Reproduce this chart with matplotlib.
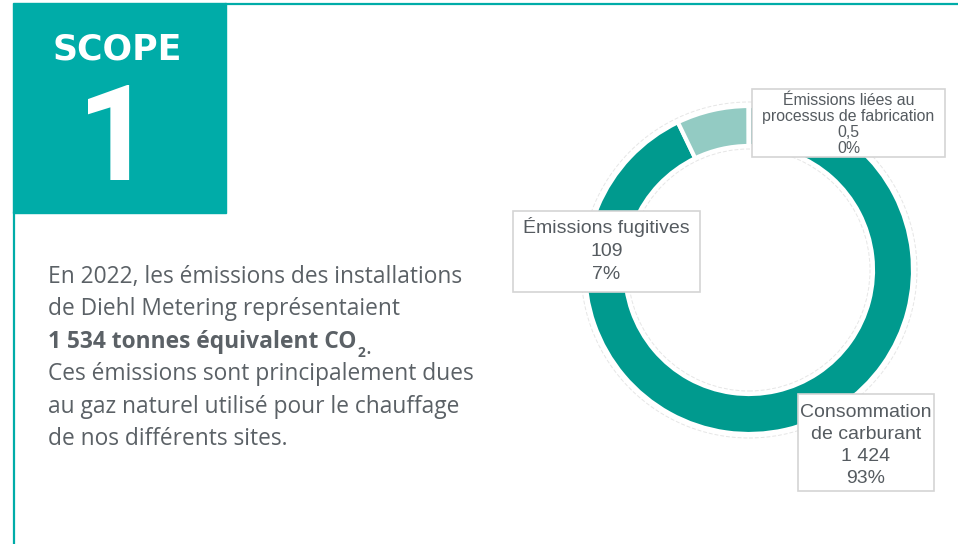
import matplotlib.pyplot as plt
from matplotlib.patches import Rectangle, Circle

# donut data
categories = ["Consommation\nde carburant", "Émissions fugitives", "Émissions liées au\nprocessus de fabrication"]
values = [1424, 109, 0.5]
value_labels = ["1 424", "109", "0,5"]
pct_labels = ["93%", "7%", "0%"]
colors = ["#009a8e", "#93cbc3", "#c9e4e0"]

# text block on the left
intro_lines = ["En 2022, les émissions des installations",
               "de Diehl Metering représentaient"]
bold_line = "1 534 tonnes équivalent CO"
outro_lines = ["Ces émissions sont principalement dues",
               "au gaz naturel utilisé pour le chauffage",
               "de nos différents sites."]

TEAL = "#00aca8"
GREY = "#5b6166"
H = 544  # figure height in px, used to flip y

fig = plt.figure(figsize=(9.58, 5.44), dpi=100)
ax = fig.add_axes([0, 0, 1, 1])

# donut
cx, cy, r = 749, H - 270, 164
ax.pie(values, colors=colors, startangle=90, counterclock=False, center=(cx, cy), radius=r,
       wedgeprops=dict(width=40, edgecolor="white", linewidth=3), frame=True)
ax.add_patch(Circle((cx, cy), r + 4, fill=False, ec="#e6e6e6", lw=0.7, ls=(0, (4, 2))))
ax.add_patch(Circle((cx, cy), r - 43, fill=False, ec="#e6e6e6", lw=0.7, ls=(0, (4, 2))))
ax.set_xlim(0, 958)
ax.set_ylim(0, H)
ax.set_aspect("auto")
ax.axis("off")

# frame: teal square, top line, left line
ax.add_patch(Rectangle((13, H - 213), 213, 210, color=TEAL, zorder=1))
ax.plot([226, 958], [H - 4, H - 4], color=TEAL, lw=1.6)
ax.plot([14, 14], [0, H - 213], color=TEAL, lw=1.6)
ax.text(117, H - 50, "SCOPE", color="white", fontsize=25, fontweight="bold",
        family="DejaVu Sans", ha="center", va="center", zorder=2)
ax.text(115, H - 180, "1", color="white", fontsize=96, fontweight="bold",
        family="Roboto", ha="center", va="baseline", zorder=2)

# paragraph
font = dict(family="Open Sans", fontsize=16.4, color=GREY, va="baseline", ha="left")
step = 32.4
y = H - 283
for line in intro_lines:
    ax.text(48, y, line, **font)
    y -= step
t = ax.text(48, y, bold_line, fontweight="bold", **font)
s = ax.annotate("2", xy=(1, 0), xycoords=t, xytext=(0.5, -2), textcoords="offset points",
                family="Open Sans", fontsize=10, fontweight="bold", color=GREY, va="baseline", ha="left")
ax.annotate(".", xy=(1, 0), xycoords=s, xytext=(0.5, 4), textcoords="offset points",
            family="Open Sans", fontsize=16.4, color=GREY, va="baseline", ha="left")
y -= step
for line in outro_lines:
    ax.text(48, y, line, **font)
    y -= step

# data label boxes: x0, y_top, x1, y_bottom, first baseline, line step (px)
boxes = [(798, 394, 934, 491, 417, 22), (513, 211, 700, 292, 233, 23), (752, 89, 945, 157, 105, 16)]
label_sizes = [14, 14, 11.4]
for i in range(3):
    x0, y0, x1, y1, b0, dy = boxes[i]
    ax.add_patch(Rectangle((x0, H - y1), x1 - x0, y1 - y0, fc="white", ec="#d4d4d4", lw=1.2, zorder=5))
    lines = categories[i].split("\n") + [value_labels[i], pct_labels[i]]
    for k, line in enumerate(lines):
        ax.text((x0 + x1) / 2, H - (b0 + dy * k), line, family="Liberation Sans",
                fontsize=label_sizes[i], color="#555b60", ha="center", va="baseline", zorder=6)

fig.savefig("out.png", dpi=100)
